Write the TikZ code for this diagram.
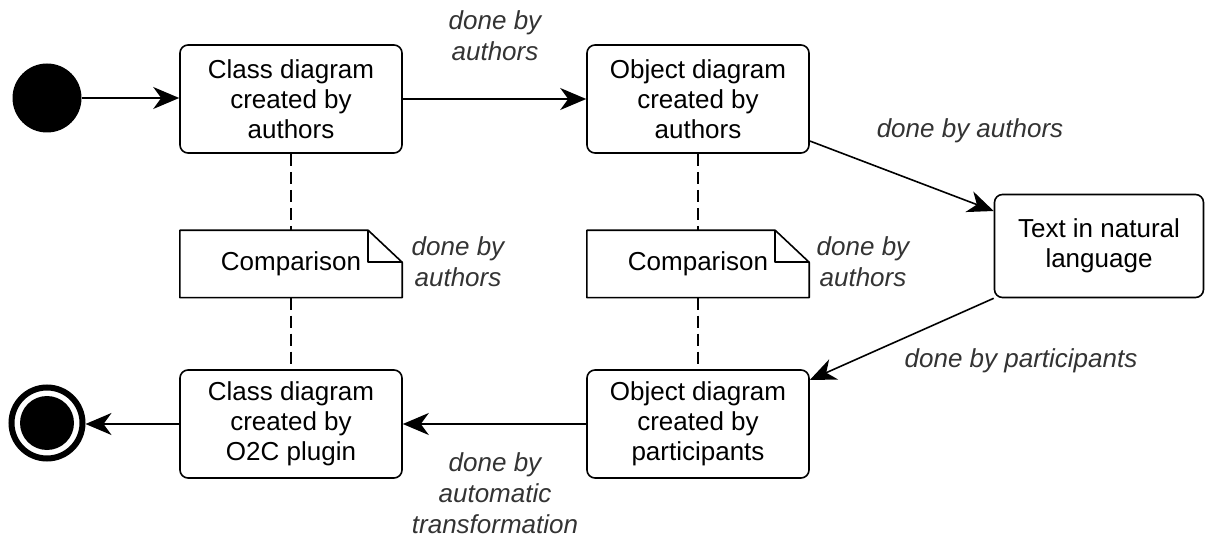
\documentclass[tikz,border=0pt]{standalone}
\usepackage{fontspec}
\setmainfont{Liberation Sans}
\usetikzlibrary{arrows.meta,calc}
\begin{document}
\begin{tikzpicture}[x=1pt, y=-1pt,
    state/.style={draw, line width=1.6pt, rounded corners=8pt, inner sep=0pt,
                  minimum width=222pt, minimum height=108pt, align=center,
                  font=\fontsize{26}{30}\selectfont},
    note/.style={inner sep=0pt, minimum width=222pt, minimum height=67pt,
                 font=\fontsize{26}{30}\selectfont},
    lbl/.style={font=\fontsize{26}{31}\selectfont\itshape, text=black!80,
                align=center},
    arr/.style={-{Stealth[length=26pt, width=22pt, inset=8pt]}, line width=1.6pt},
    link/.style={line width=1.4pt, dash pattern=on 12pt off 6pt}
  ]
  \useasboundingbox (0,0) rectangle (1219,540);
  % start and end
  \node[circle, fill, inner sep=0pt, minimum size=69pt] (start) at (47,98) {};
  \node[circle, draw, fill=white, line width=6pt, inner sep=0pt,
        minimum size=71pt] (stop) at (47,423) {};
  \fill (stop.center) circle (27pt);
  % activities
  \node[state] (cdauth) at (291,99) {Class diagram\\created by\\authors};
  \node[state] (odauth) at (698,99) {Object diagram\\created by\\authors};
  \node[state, minimum width=209pt, minimum height=103pt] (text) at (1099,246)
    {Text in natural\\language};
  \node[state] (odpart) at (698,424) {Object diagram\\created by\\participants};
  \node[state] (cdplug) at (291,424) {Class diagram\\created by\\O2C plugin};
  % comparison notes
  \foreach \n/\x in {cmpA/291, cmpB/698} {
    \node[note] (\n) at (\x,264) {Comparison};
    \draw[line width=1.6pt, line join=round]
      (\n.north west) -- ($(\n.north east)+(-34,0)$) -- ($(\n.north east)+(0,32)$)
      -- (\n.south east) -- (\n.south west) -- cycle;
    \draw[line width=1.6pt, line join=round]
      ($(\n.north east)+(-34,0)$) -- ($(\n.north east)+(-34,32)$)
      -- ($(\n.north east)+(0,32)$);
  }
  \draw[link] (cdauth.south) -- (cmpA.north);
  \draw[link] (cmpA.south) -- (cdplug.north);
  \draw[link] (odauth.south) -- (cmpB.north);
  \draw[link] (cmpB.south) -- (odpart.north);
  % transitions
  \draw[arr] (start.east) -- (start.east -| cdauth.west);
  \draw[arr] (cdauth.east) -- (odauth.west);
  \draw[arr] ([yshift=-42pt]odauth.east) -- ([yshift=35pt]text.west);
  \draw[arr] (text.south west) -- ([yshift=44pt]odpart.east);
  \draw[arr] (odpart.west) -- (cdplug.east);
  \draw[arr] (cdplug.west) -- (cdplug.west -| stop.east);
  % labels
  \node[lbl] (l1) at (495,36) {done by\\authors};
  \node[lbl] (l2) at (970,131) {done by authors};
  \node[lbl] (l3) at (458,262) {done by\\authors};
  \node[lbl] (l4) at (863,262) {done by\\authors};
  \node[lbl] (l5) at (1021,361) {done by participants};
  \node[lbl] (l6) at (495,493) {done by\\automatic\\transformation};
\end{tikzpicture}
\end{document}
